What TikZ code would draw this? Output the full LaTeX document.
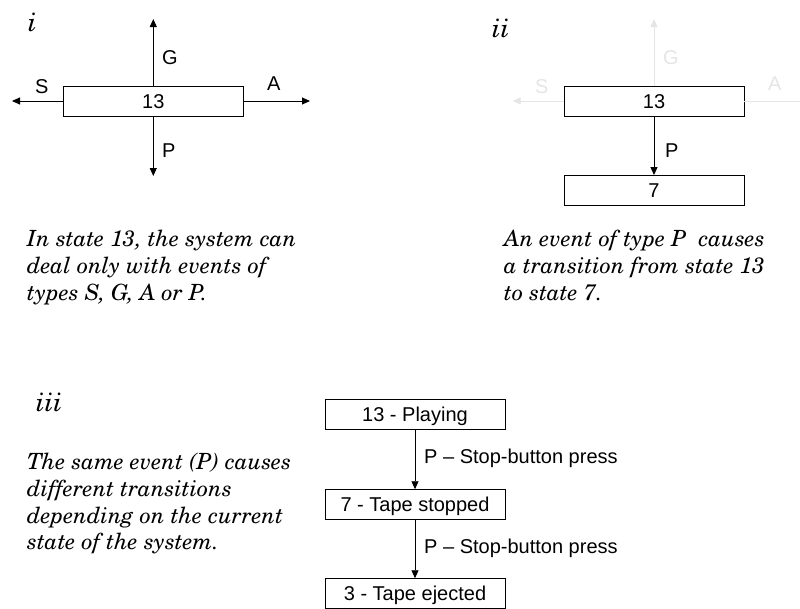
\documentclass[tikz,border=0pt]{standalone}
\usepackage[T1]{fontenc}
\usepackage{fontspec}
\setsansfont{Liberation Sans}
\usetikzlibrary{arrows.meta}
% Century Schoolbook italic for the captions
\newcommand\schit{\fontencoding{T1}\fontfamily{pnc}\fontseries{m}\fontshape{it}\selectfont}
\definecolor{faint}{gray}{0.9}

\begin{document}
\begin{tikzpicture}[x=1pt,y=-1pt,
  state/.style={draw, fill=white, line width=0.9pt, minimum width=180pt,
    minimum height=30pt, inner sep=0pt, text height=14.3pt, text depth=0pt,
    font=\sffamily\fontsize{20}{24}\selectfont},
  ev/.style={line width=0.9pt, -{Triangle[length=8pt,width=7pt]}},
  evfaint/.style={ev, draw=faint, fill=faint},
  lbl/.style={anchor=west, inner sep=0pt, text height=14.3pt, text depth=0pt,
    font=\sffamily\fontsize{20}{24}\selectfont},
  note/.style={anchor=north west, inner sep=0pt, align=left,
    font=\schit\fontsize{22.3}{26.8}\selectfont},
  tag/.style={anchor=base west, inner sep=0pt, font=\schit\fontsize{26}{30}\selectfont}]
\useasboundingbox (0,0) rectangle (800,608);

% ---- i : state 13 and its four possible events
\node[tag] (ti) at (28,31) {i};
\node[state] (a13) at (153.3,101) {13};
\coordinate (aG) at (153.3,19);
\coordinate (aP) at (153.3,176);
\coordinate (aS) at (12,101);
\coordinate (aA) at (310,101);
\draw[ev] (a13.north) -- (aG);
\draw[ev] (a13.south) -- (aP);
\draw[ev] (a13.west) -- (aS);
\draw[ev] (a13.east) -- (aA);
\node[lbl] (lG) at (162,57) {G};
\node[lbl] (lP) at (162,150) {P};
\node[lbl] (lS) at (35,86) {S};
\node[lbl] (lA) at (267,83.5) {A};
\node[note] (ni) at (27,227.9) {\strut In state 13, the system can\\deal only with events of\\types S, G, A or P.};

% ---- ii : event P takes state 13 to state 7
\node[tag] (tii) at (492,37) {ii};
\node[state] (b13) at (654,101) {13};
\node[state] (b7) at (654,190.5) {7};
\coordinate (bG) at (654,19);
\coordinate (bS) at (512.7,101);
\coordinate (bA) at (811,101);
\begin{scope}
  \clip (0,0) rectangle (800,608);
  \draw[evfaint] (b13.north) -- (bG);
  \draw[evfaint] (b13.west) -- (bS);
  \draw[evfaint] (b13.east) -- (bA);
\end{scope}
\node[lbl, text=faint] (mG) at (663,57) {G};
\node[lbl, text=faint] (mS) at (535,86) {S};
\node[lbl, text=faint] (mA) at (768,83.5) {A};
\draw[ev] (b13.south) -- (b7.north);
\node[lbl] (mP) at (665,150) {P};
\node[note] (nii) at (504,227.9) {\strut An event of type P\ \ causes\\a transition from state 13\\to state 7.};

% ---- iii : the same event from different states
\node[tag] (tiii) at (36,411.5) {iii};
\node[note] (niii) at (27,450.6) {\strut The same event (P) causes\\different transitions\\depending on the current\\state of the system.};
\node[state] (c13) at (415,414.7) {13 - Playing};
\node[state] (c7) at (415,504.7) {7 - Tape stopped};
\node[state] (c3) at (415,593.7) {3 - Tape ejected};
\draw[ev] (c13.south) -- (c7.north);
\draw[ev] (c7.south) -- (c3.north);
\node[lbl] (e1) at (424,456.5) {P -- Stop-button press};
\node[lbl] (e2) at (424,546.5) {P -- Stop-button press};
\end{tikzpicture}
\end{document}
